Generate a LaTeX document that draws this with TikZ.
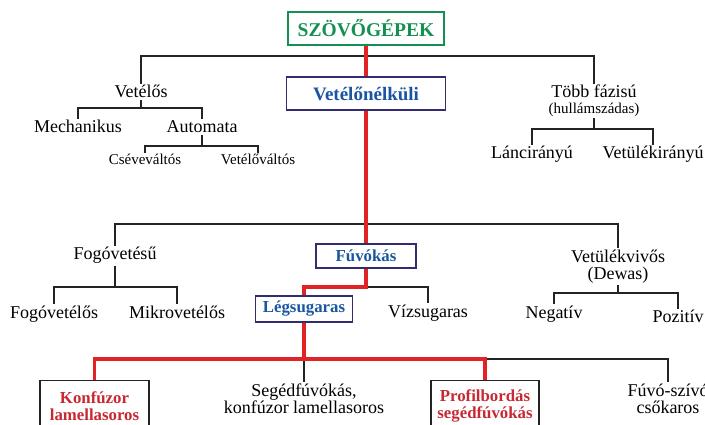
\documentclass[tikz,border=0pt]{standalone}
\usepackage{fontspec}
\setmainfont{Liberation Serif}
\usetikzlibrary{positioning}

\definecolor{titlegreen}{RGB}{20,145,80}
\definecolor{boxblue}{RGB}{25,85,160}
\definecolor{boxnavy}{RGB}{50,45,110}
\definecolor{pathred}{RGB}{225,35,35}
\definecolor{textred}{RGB}{200,40,50}
\definecolor{linegray}{RGB}{35,35,35}

\begin{document}
\begin{tikzpicture}
		[x=1pt, y=-1pt,
			txt/.style={anchor=base, inner sep=1.5pt, font=\fontsize{18}{17}\selectfont},
			smalltxt/.style={txt, font=\fontsize{15}{17}\selectfont},
			box/.style={draw, line width=1.3pt, inner sep=0pt, font=\bfseries\fontsize{16.8}{17}\selectfont},
			bluebox/.style={box, draw=boxnavy, text=boxblue},
			redbox/.style={box, draw=linegray, text=textred, align=center},
			tree/.style={draw=linegray, line width=1.6pt},
			main/.style={draw=pathred, line width=3.5pt}]
		\useasboundingbox (0,0) rectangle (705,425);
		% boxes on the highlighted path
		\node[box, draw=titlegreen, text=titlegreen, font=\bfseries\fontsize{19.5}{22}\selectfont,
			minimum width=156pt, minimum height=33pt] (gep) at (366,28.5) {SZÖVŐGÉPEK};
		\node[bluebox, font=\bfseries\fontsize{19}{22}\selectfont,
			minimum width=159pt, minimum height=33pt] (vnk) at (366,93.5) {Vetélőnélküli};
		\node[bluebox, minimum width=100pt, minimum height=24pt] (fuvo) at (366,256) {Fúvókás};
		\node[bluebox, minimum width=97pt, minimum height=26pt] (leg) at (304,309) {Légsugaras};
		\node[redbox, minimum width=109pt, minimum height=51pt, anchor=north] (konf) at (94.5,380) {Konfúzor\\lamellasoros};
		\node[redbox, minimum width=108pt, minimum height=51pt, anchor=north] (prof) at (485,380) {Profilbordás\\segédfúvókás};
		% first level
		\node[txt] (vetelos) at (141,98) {Vetélős};
		\node[txt] (tobb) at (594,98) {Több fázisú};
		\node[smalltxt, below=1pt of tobb] (hullam) {(hullámszádas)};
		\node[txt] (mech) at (78,133) {Mechanikus};
		\node[txt] (auto) at (202,133) {Automata};
		\node[smalltxt] (cseve) at (145,165) {Cséveváltós};
		\node[smalltxt] (vetvalt) at (258,165) {Vetélőváltós};
		\node[txt] (lanc) at (532,159) {Láncirányú};
		\node[txt] (vetir) at (653,159) {Vetülékirányú};
		% second level
		\node[txt] (fogo) at (115,260) {Fogóvetésű};
		\node[txt] (fogovet) at (54,318) {Fogóvetélős};
		\node[txt] (mikro) at (177,318) {Mikrovetélős};
		\node[txt] (viz) at (428,317) {Vízsugaras};
		\node[txt] (vetviv) at (618,262) {Vetülékvivős};
		\node[txt, below=1pt of vetviv] (dewas) {(Dewas)};
		\node[txt] (neg) at (554,318) {Negatív};
		\node[txt] (poz) at (678,323) {Pozitív};
		% third level
		\node[txt, align=center, anchor=north] (seged) at (304,382) {Segédfúvókás,\\konfúzor lamellasoros};
		\node[txt, align=center, anchor=north] (fsz) at (668,382) {Fúvó-szívó\\csőkaros};
		% define the fork points
		\coordinate (j1) at (366,56);
		\coordinate (f1) at (141,108);
		\coordinate (f2) at (202,146);
		\coordinate (f3) at (594,129);
		\coordinate (j2) at (366,224);
		\coordinate (f4) at (115,287);
		\coordinate (f5) at (366,287);
		\coordinate (f8) at (618,293);
		\coordinate (f6) at (304,359);
		\coordinate (f7) at (485,359);
		% draw the black branches
		\draw[tree] (vetelos.north) |- (j1) -| (tobb.north);
		\draw[tree] (vetelos.south) -- (f1);
		\draw[tree] (mech.north) |- (f1) -| (auto.north);
		\draw[tree] (auto.south) -- (f2);
		\draw[tree] (cseve.north) |- (f2) -| (vetvalt.north);
		\draw[tree] (hullam.south) -- (f3);
		\draw[tree] (lanc.north) |- (f3) -| (vetir.north);
		\draw[tree] (fogo.north) |- (j2) -| (vetviv.north);
		\draw[tree] (fogo.south) -- (f4);
		\draw[tree] (fogovet.north) |- (f4) -| (mikro.north);
		\draw[tree] (f5) -| (viz.north);
		\draw[tree] (dewas.south) -- (f8);
		\draw[tree] (neg.north) |- (f8) -| (poz.north);
		\draw[tree] (f6) -- (seged.north);
		\draw[tree] (f7) -| (fsz.north);
		% draw the red path
		\draw[main] (gep.south) -- (vnk.north);
		\draw[main] (vnk.south) -- (fuvo.north);
		\draw[main] (fuvo.south) -- (f5) -| (leg.north);
		\draw[main] (leg.south) -- (f6);
		\draw[main] (konf.north) |- (f7) -- (prof.north);
	\end{tikzpicture}
\end{document}
